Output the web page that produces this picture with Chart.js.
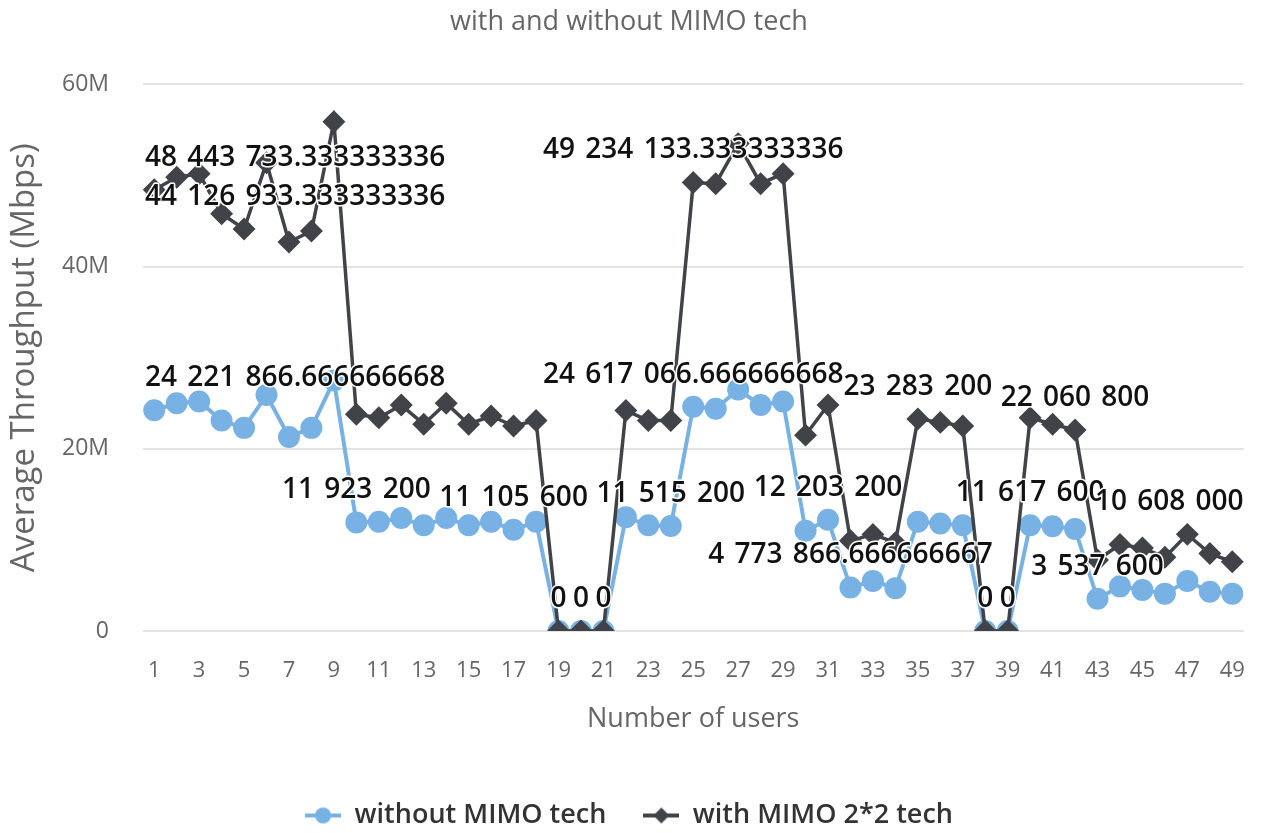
<!DOCTYPE html>
<html>
<head>
<meta charset="utf-8">
<title>Average Throughput with and without MIMO tech</title>
<script src="https://cdn.jsdelivr.net/npm/chart.js@4.4.1/dist/chart.umd.min.js"></script>
<style>
  html, body { margin: 0; background: #fff; }
  #wrap { width: 1272px; height: 833px; }
</style>
</head>
<body>
<div id="wrap"><canvas id="chart"></canvas></div>
<script>
const users = [
  "1", "2", "3", "4", "5", "6", "7", "8", "9", "10",
  "11", "12", "13", "14", "15", "16", "17", "18", "19", "20",
  "21", "22", "23", "24", "25", "26", "27", "28", "29", "30",
  "31", "32", "33", "34", "35", "36", "37", "38", "39", "40",
  "41", "42", "43", "44", "45", "46", "47", "48", "49",
];

// bps per user
const withoutMimo = [
  24221867, 25000000, 25200000, 23100000, 22300000, 25900000, 21300000, 22300000, 27500000,
  11923200, 12000000, 12400000, 11600000, 12400000, 11600000, 12000000, 11105600, 12000000,
  0, 0, 0,
  12500000, 11600000, 11515200,
  24617067, 24400000, 26500000, 24800000, 25200000,
  11000000, 12203200, 4773867, 5500000, 4700000, 12000000, 11800000, 11600000,
  0, 0,
  11617600, 11500000, 11200000,
  3537600, 4900000, 4500000, 4100000, 5500000, 4300000, 4100000,
];

const withMimo = [
  48443733, 49800000, 50200000, 45800000, 44126933, 51400000, 42700000, 43900000, 55900000,
  23800000, 23400000, 24800000, 22700000, 25000000, 22700000, 23600000, 22500000, 23100000,
  0, 0, 0,
  24200000, 23100000, 23100000,
  49234133, 49100000, 53500000, 49100000, 50200000,
  21500000, 24800000, 9900000, 10600000, 9700000, 23283200, 22900000, 22500000,
  0, 0,
  23400000, 22700000, 22060800,
  7800000, 9500000, 9100000, 8100000, 10608000, 8500000, 7600000,
];

const yTicks = [0, 20000000, 40000000, 60000000];

// value labels: which series (0 = without, 1 = with), which user index, shown text
const labelSeries = [1, 1, 0, 0, 0, 1, 1, 1, 0, 1, 0, 0, 0, 1, 1, 1, 0, 1, 0, 1];
const labelIndex = [0, 4, 0, 9, 16, 18, 19, 20, 23, 24, 24, 30, 31, 34, 37, 38, 39, 41, 42, 46];
const labelText = [
  "48 443 733.333333336", "44 126 933.333333336", "24 221 866.666666668",
  "11 923 200", "11 105 600", "0", "0", "0", "11 515 200",
  "49 234 133.333333336", "24 617 066.666666668", "12 203 200",
  "4 773 866.666666667", "23 283 200", "0", "0", "11 617 600",
  "22 060 800", "3 537 600", "10 608 000",
];

const blue = "#78b1e4";
const dark = "#404348";
const grey = "#666666";

function legendIcon(color, shape) {
  const c = document.createElement("canvas");
  c.width = 36;
  c.height = 20;
  const g = c.getContext("2d");
  g.strokeStyle = color;
  g.fillStyle = color;
  g.lineWidth = 4;
  g.beginPath();
  g.moveTo(0, 10);
  g.lineTo(36, 10);
  g.stroke();
  g.beginPath();
  if (shape === "circle") {
    g.arc(18, 10, 8, 0, Math.PI * 2);
  } else {
    g.moveTo(18, 2);
    g.lineTo(26, 10);
    g.lineTo(18, 18);
    g.lineTo(10, 10);
    g.closePath();
  }
  g.fill();
  return c;
}

const valueLabels = {
  id: "valueLabels",
  afterDatasetsDraw(chart) {
    const { ctx, chartArea } = chart;
    ctx.save();
    ctx.font = "600 28px 'Open Sans'";
    ctx.wordSpacing = "3px";
    ctx.textAlign = "left";
    ctx.textBaseline = "middle";
    ctx.lineJoin = "round";
    ctx.lineWidth = 3;
    ctx.strokeStyle = "#ffffff";
    ctx.fillStyle = "#111111";
    labelText.forEach((text, i) => {
      const pt = chart.getDatasetMeta(labelSeries[i]).data[labelIndex[i]];
      const w = ctx.measureText(text).width;
      let x = pt.x - w / 2;
      x = Math.max(chartArea.left + 2, Math.min(x, chartArea.right - w));
      const y = pt.y - 32;
      ctx.strokeText(text, x, y);
      ctx.fillText(text, x, y);
    });
    ctx.restore();
  },
};

new Chart(document.getElementById("chart"), {
  type: "line",
  data: {
    labels: users,
    datasets: [
      {
        label: "without MIMO tech",
        data: withoutMimo,
        borderColor: blue,
        backgroundColor: blue,
        borderWidth: 4,
        pointStyle: "circle",
        pointRadius: 9,
        pointHoverRadius: 9,
        tension: 0,
        order: 1,
        icon: legendIcon(blue, "circle"),
      },
      {
        label: "with MIMO 2*2 tech",
        data: withMimo,
        borderColor: dark,
        backgroundColor: dark,
        borderWidth: 3.5,
        pointStyle: "rectRot",
        pointRadius: 9,
        pointHoverRadius: 9,
        tension: 0,
        order: 0,
        icon: legendIcon(dark, "diamond"),
      },
    ],
  },
  options: {
    responsive: true,
    maintainAspectRatio: false,
    animation: false,
    layout: { padding: { left: 0, right: 14, top: 0, bottom: -6 } },
    plugins: {
      title: {
        display: true,
        text: "with and without MIMO tech",
        color: grey,
        font: { family: "'Open Sans'", size: 27, weight: "normal" },
        padding: { top: 6, bottom: 46 },
      },
      legend: {
        position: "bottom",
        labels: {
          usePointStyle: true,
          pointStyleWidth: 36,
          padding: 37,
          color: "#333333",
          font: { family: "'Open Sans'", size: 27, weight: "600" },
          generateLabels: (chart) =>
            chart.data.datasets.map((ds, i) => ({
              text: ds.label,
              pointStyle: ds.icon,
              fontColor: "#333333",
              lineWidth: 0,
              strokeStyle: "transparent",
              fillStyle: ds.borderColor,
              hidden: !chart.isDatasetVisible(i),
              datasetIndex: i,
            })),
        },
      },
      tooltip: { enabled: false },
    },
    scales: {
      x: {
        offset: true,
        grid: { display: false, drawTicks: false },
        border: { display: false },
        ticks: {
          autoSkip: false,
          maxRotation: 0,
          padding: 27,
          color: grey,
          font: { family: "'Open Sans'", size: 22 },
          callback: (value, index) => (index % 2 === 0 ? users[index] : ""),
        },
        title: {
          display: true,
          text: "Number of users",
          color: grey,
          font: { family: "'Open Sans'", size: 27 },
          padding: { top: 4, bottom: 29 },
        },
        afterFit: (scale) => {
          scale.height = 134;
        },
      },
      y: {
        min: 0,
        max: 60000000,
        grid: { color: "#e3e3e3", lineWidth: 2, drawTicks: false },
        border: { display: false },
        afterBuildTicks: (scale) => {
          scale.ticks = yTicks.map((v) => ({ value: v }));
        },
        ticks: {
          padding: 34,
          color: grey,
          font: { family: "'Open Sans'", size: 23 },
          callback: (value) => (value === 0 ? "0" : value / 1000000 + "M"),
        },
        title: {
          display: true,
          text: "Average Throughput (Mbps)",
          color: grey,
          font: { family: "'Open Sans'", size: 33 },
          padding: { top: 5, bottom: 0 },
        },
        afterFit: (scale) => {
          scale.width = 143;
        },
      },
    },
  },
  plugins: [valueLabels],
});
</script>
</body>
</html>
